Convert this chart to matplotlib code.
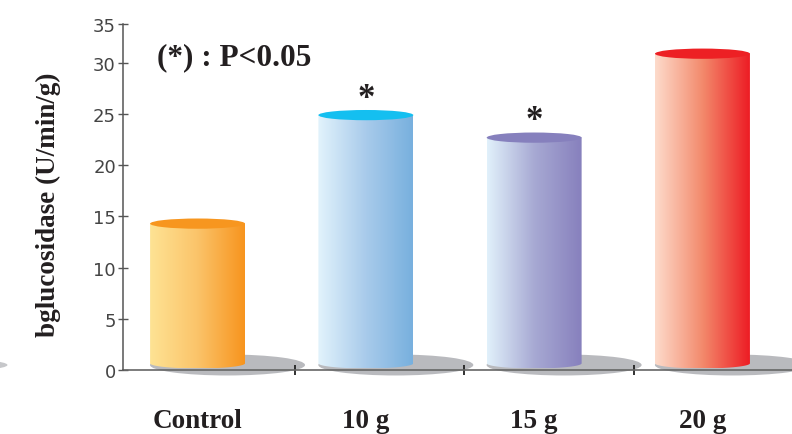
import numpy as np
import matplotlib.pyplot as plt
from matplotlib.patches import Ellipse, PathPatch
from matplotlib.path import Path
from matplotlib.colors import LinearSegmentedColormap

groups = ['Control', '10 g', '15 g', '20 g']
activity = [14.3, 24.9, 22.7, 30.9]
signif = [False, True, True, False]
ytick_labels = ['0', '5', '10', '15', '20', '25', '30', '35']

side_colors = [['#fee394', '#fbc46a', '#f7941e'],
               ['#e2f3fc', '#a9cbeb', '#78b0de'],
               ['#e1f1fb', '#a7a9d3', '#8780bd'],
               ['#fddbcb', '#f38a6c', '#ed1c24']]
cap_colors = ['#f7961f', '#14bff0', '#8680bd', '#ed2024']
shadow_col = '#b9babe'

serif = ['Liberation Serif', 'DejaVu Serif']

W, H = 792, 435
fig = plt.figure(figsize=(W / 100, H / 100), dpi=100)
ax = fig.add_axes([123 / W, 64 / H, 1 - 123 / W, 346 / H])

ytop = 33.8
w = 0.564      # cylinder width
eh = 1.0       # ellipse height (data units)
yb = 0.65      # centre of bottom ellipse

def cylinder(xc, v, cols, cap):
    x0, x1 = xc - w / 2, xc + w / 2
    t = np.linspace(np.pi, 2 * np.pi, 60)
    verts = list(zip(xc + w / 2 * np.cos(t), yb + eh / 2 * np.sin(t)))
    verts += [(x1, v), (x0, v), verts[0]]
    patch = PathPatch(Path(np.array(verts), closed=True), facecolor='none', edgecolor='none')
    ax.add_patch(patch)
    cmap = LinearSegmentedColormap.from_list('side', cols)
    grad = np.linspace(0, 1, 256).reshape(1, -1)
    im = ax.imshow(grad, cmap=cmap, extent=[x0, x1, yb - eh / 2, v],
                   aspect='auto', zorder=3, interpolation='bicubic')
    im.set_clip_path(patch)
    ax.add_patch(Ellipse((xc, v), w, eh, facecolor=cap, edgecolor='none', zorder=4))

# shadows behind the bars
for i in range(len(groups)):
    ax.add_patch(Ellipse((i + 0.178, 0.49), 0.921, 2.05, facecolor=shadow_col,
                         edgecolor='none', zorder=1, clip_on=False))
ax.add_patch(Ellipse((-1.59, 0.49), 0.921, 1.4, facecolor='#c6c7ca',
                     edgecolor='none', zorder=1, clip_on=False))

for i, (v, cols, cap) in enumerate(zip(activity, side_colors, cap_colors)):
    cylinder(i, v, cols, cap)
    if signif[i]:
        ax.annotate('*', xy=(i, v), xytext=(0, 12), textcoords='offset points',
                    ha='center', va='center', fontsize=25, fontweight='bold',
                    family=serif, color='#231f20')
    ax.text(i, -0.165, groups[i], transform=ax.get_xaxis_transform(),
            ha='center', va='baseline', fontsize=19.5, fontweight='bold',
            family=serif, color='#231f20')

ax.set_xlim(-0.443, 3.532)
ax.set_ylim(0, ytop)

ax.set_yticks([0, 5, 10, 15, 20, 25, 30, ytop])
ax.set_yticklabels(ytick_labels)
ax.tick_params(axis='y', direction='inout', length=7.2, width=1, color='#555555',
               labelsize=13, labelcolor='#444444', pad=1.5)

ax.set_xticks([0.58, 1.585, 2.595])
ax.set_xticklabels([])
ax.tick_params(axis='x', direction='inout', length=6.5, width=1.3, color='#222222')

for s in ['top', 'right']:
    ax.spines[s].set_visible(False)
ax.spines['left'].set_color('#555555')
ax.spines['left'].set_linewidth(1.1)
ax.spines['bottom'].set_color('#666666')
ax.spines['bottom'].set_linewidth(1.2)
ax.spines['bottom'].set_zorder(2)

fig.text(48 / W, 1 - 205 / H, 'bglucosidase (U/min/g)', rotation=90,
         ha='center', va='center', fontsize=19.5, fontweight='bold',
         family=serif, color='#231f20')
fig.text(157 / W, 1 - 65 / H, '(*) : P<0.05', ha='left', va='baseline',
         fontsize=22.5, fontweight='bold', family=serif, color='#231f20')

fig.savefig('out.png', dpi=100)
